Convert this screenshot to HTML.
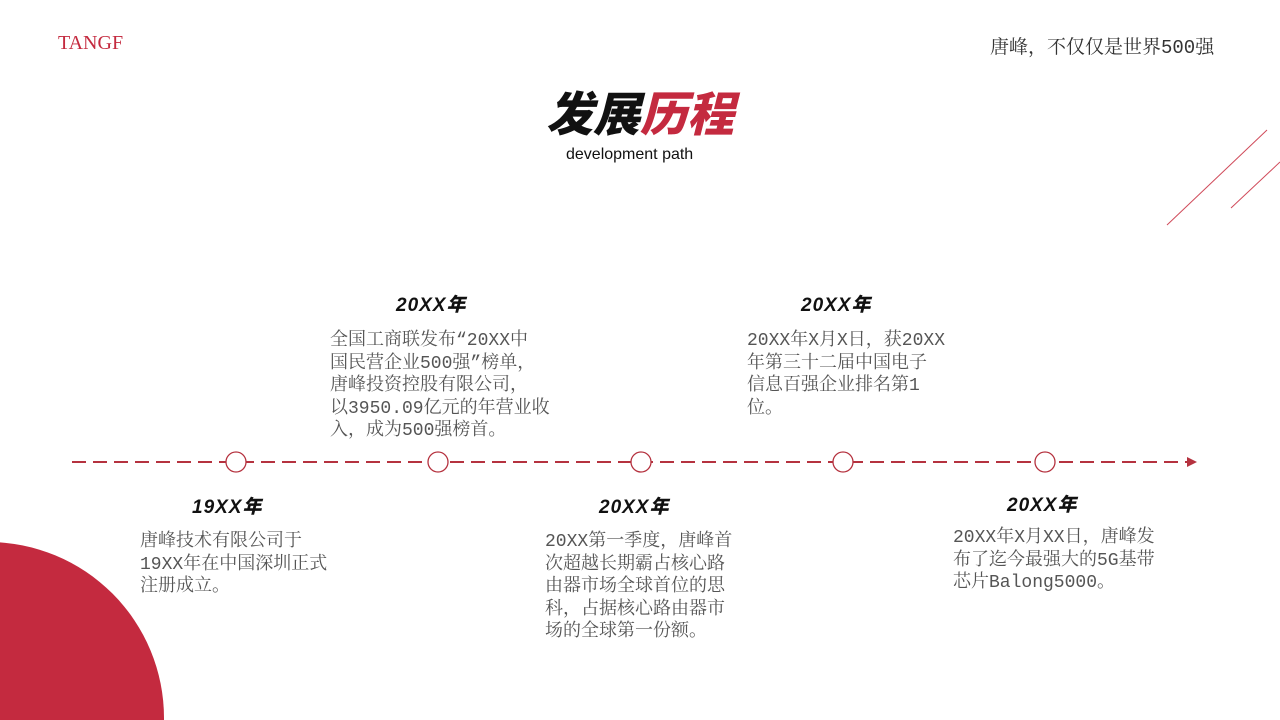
<!DOCTYPE html>
<html><head><meta charset="utf-8"><style>
html,body{margin:0;width:1280px;height:720px;overflow:hidden}
body{position:relative;background:#fff;font-family:"Liberation Serif","Noto Serif CJK SC",serif}
.a{position:absolute}
.yr{position:absolute;font-family:"Liberation Sans","Noto Sans CJK SC",sans-serif;font-weight:900;font-style:italic;font-size:19px;color:#111;letter-spacing:1px;white-space:nowrap}
.t{position:absolute;font-family:"Liberation Mono","Noto Serif CJK SC",serif;font-size:18px;line-height:22.5px;color:#555;white-space:nowrap}
</style></head><body>
<svg class="a" style="left:0;top:0" width="1280" height="720">
<circle cx="-12" cy="718" r="176" fill="#c42a3f"/>
<line x1="1167" y1="225" x2="1267" y2="130" stroke="#d04a5a" stroke-width="1"/>
<line x1="1231" y1="208" x2="1280" y2="162" stroke="#d04a5a" stroke-width="1"/>
<line x1="72" y1="462" x2="1188" y2="462" stroke="#b5323f" stroke-width="2" stroke-dasharray="14 7"/>
<polygon points="1187,457 1197,462 1187,467" fill="#b5323f"/>
<g fill="#fff" stroke="#b5323f" stroke-width="1.3">
<circle cx="236" cy="462" r="10"/><circle cx="438" cy="462" r="10"/><circle cx="641" cy="462" r="10"/><circle cx="843" cy="462" r="10"/><circle cx="1045" cy="462" r="10"/>
</g>
</svg>
<div class="a" style="left:58px;top:32px;font-size:20px;color:#c42a3f">TANGF</div>
<div class="a" style="left:990px;top:32px;font-family:'Liberation Mono','Noto Serif CJK SC',serif;font-size:19px;color:#333;white-space:nowrap">唐峰，不仅仅是世界500强</div>
<div class="a" style="left:546px;top:84px;font-family:'Noto Sans CJK SC',sans-serif;font-weight:900;font-style:italic;font-size:47px;line-height:54px;letter-spacing:0px;white-space:nowrap"><span style="color:#111">发展</span><span style="color:#c42a3f">历程</span></div>
<div class="a" style="left:566px;top:146px;font-family:'Liberation Sans',sans-serif;font-size:16px;color:#111">development path</div>
<div class="yr" style="left:396px;top:290px">20XX年</div>
<div class="yr" style="left:801px;top:290px">20XX年</div>
<div class="yr" style="left:192px;top:492px">19XX年</div>
<div class="yr" style="left:599px;top:492px">20XX年</div>
<div class="yr" style="left:1007px;top:490px">20XX年</div>
<div class="t" style="left:330px;top:330px">全国工商联发布“20XX中<br>国民营企业500强”榜单，<br>唐峰投资控股有限公司，<br>以3950.09亿元的年营业收<br>入，成为500强榜首。</div>
<div class="t" style="left:747px;top:330px">20XX年X月X日，获20XX<br>年第三十二届中国电子<br>信息百强企业排名第1<br>位。</div>
<div class="t" style="left:140px;top:531px">唐峰技术有限公司于<br>19XX年在中国深圳正式<br>注册成立。</div>
<div class="t" style="left:545px;top:531px">20XX第一季度，唐峰首<br>次超越长期霸占核心路<br>由器市场全球首位的思<br>科，占据核心路由器市<br>场的全球第一份额。</div>
<div class="t" style="left:953px;top:527px">20XX年X月XX日，唐峰发<br>布了迄今最强大的5G基带<br>芯片Balong5000。</div>
</body></html>
